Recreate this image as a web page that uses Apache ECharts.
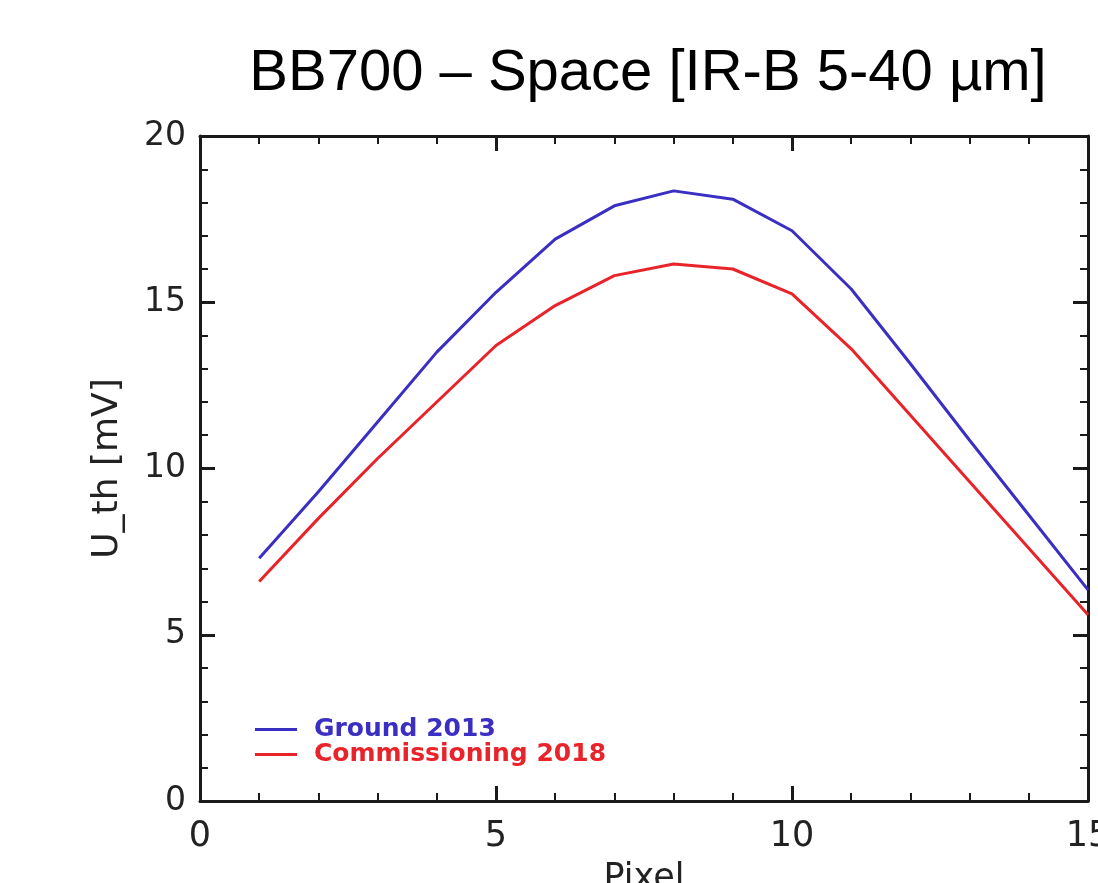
<!DOCTYPE html>
<html>
<head>
<meta charset="utf-8">
<script src="https://cdn.jsdelivr.net/npm/echarts@6/dist/echarts.min.js"></script>
<style>
  html, body { margin: 0; padding: 0; background: #fff; }
  #canvas { width: 1098px; height: 883px; }
</style>
</head>
<body>
<div id="canvas"></div>
<script>
// pixel index on x, U_th in mV on y
var pixels = [1, 2, 3, 4, 5, 6, 7, 8, 9, 10, 11, 12, 13, 14, 15];
var ground2013 = [7.3, 9.3, 11.4, 13.5, 15.3, 16.9, 17.9, 18.35, 18.1, 17.15, 15.4, 13.15, 10.85, 8.6, 6.35];
var commissioning2018 = [6.6, 8.5, 10.3, 12.0, 13.7, 14.9, 15.8, 16.15, 16.0, 15.25, 13.6, 11.6, 9.6, 7.6, 5.6];
var seriesNames = ['Ground 2013', 'Commissioning 2018'];
var seriesColors = ['#3a2fc2', '#e8232a'];
var xTicks = [0, 5, 10, 15];
var yTicks = [0, 5, 10, 15, 20];

var chart = echarts.init(document.getElementById('canvas'));

function pairs(ys) {
  return pixels.map(function (p, i) { return [p, ys[i]]; });
}

var axisFont = 'DejaVu Sans';
var frameLine = { show: true, onZero: false, lineStyle: { color: '#1a1a1a', width: 3 } };
var majorTick = { show: true, inside: true, length: 15, lineStyle: { color: '#1a1a1a', width: 3 } };
var minorTick = { show: true, length: 8, splitNumber: 5, lineStyle: { color: '#1a1a1a', width: 2 } };

var xBase = { type: 'value', min: xTicks[0], max: xTicks[xTicks.length - 1], interval: 5,
  axisLine: frameLine, axisTick: majorTick, minorTick: minorTick, splitLine: { show: false } };
var yBase = { type: 'value', min: yTicks[0], max: yTicks[yTicks.length - 1], interval: 5,
  axisLine: frameLine, axisTick: majorTick, minorTick: minorTick, splitLine: { show: false } };

var option = {
  backgroundColor: '#fff',
  animation: false,
  graphic: [{
    type: 'text',
    x: 648, y: 74,
    style: {
      text: 'BB700 \u2013 Space [IR-B 5-40 \u00b5m]',
      font: '58px "Liberation Sans"',
      fill: '#000',
      align: 'center',
      verticalAlign: 'middle'
    }
  }],
  grid: { left: 200, right: 10, top: 136, bottom: 82, outerBoundsMode: 'none', containLabel: false },
  legend: {
    left: 250, top: 712,
    orient: 'vertical',
    itemWidth: 42, itemHeight: 3, itemGap: 0,
    icon: 'rect',
    textStyle: { fontFamily: axisFont, fontSize: 25, fontWeight: 'bold', lineHeight: 23, padding: [0, 0, 0, 12] },
    data: seriesNames.map(function (n, i) {
      return { name: n, textStyle: { color: seriesColors[i] } };
    })
  },
  xAxis: [
    Object.assign({}, xBase, {
      position: 'bottom',
      name: 'Pixel', nameLocation: 'middle', nameGap: 60,
      nameTextStyle: { fontFamily: axisFont, fontSize: 35, color: '#222' },
      axisLabel: { margin: 18, fontFamily: axisFont, fontSize: 35, color: '#222' }
    }),
    Object.assign({}, xBase, { position: 'top', axisLabel: { show: false } })
  ],
  yAxis: [
    Object.assign({}, yBase, {
      position: 'left',
      name: 'U_th [mV]', nameLocation: 'middle', nameGap: 74,
      nameTextStyle: { fontFamily: axisFont, fontSize: 36, color: '#222' },
      axisLabel: { margin: 14, fontFamily: axisFont, fontSize: 33, color: '#222' }
    }),
    Object.assign({}, yBase, { position: 'right', axisLabel: { show: false } })
  ],
  series: [
    { name: seriesNames[0], type: 'line', data: pairs(ground2013), showSymbol: false,
      xAxisIndex: 0, yAxisIndex: 0,
      lineStyle: { color: seriesColors[0], width: 3 }, itemStyle: { color: seriesColors[0] } },
    { name: seriesNames[1], type: 'line', data: pairs(commissioning2018), showSymbol: false,
      xAxisIndex: 1, yAxisIndex: 1,
      lineStyle: { color: seriesColors[1], width: 3 }, itemStyle: { color: seriesColors[1] } }
  ]
};

chart.setOption(option);
</script>
</body>
</html>
